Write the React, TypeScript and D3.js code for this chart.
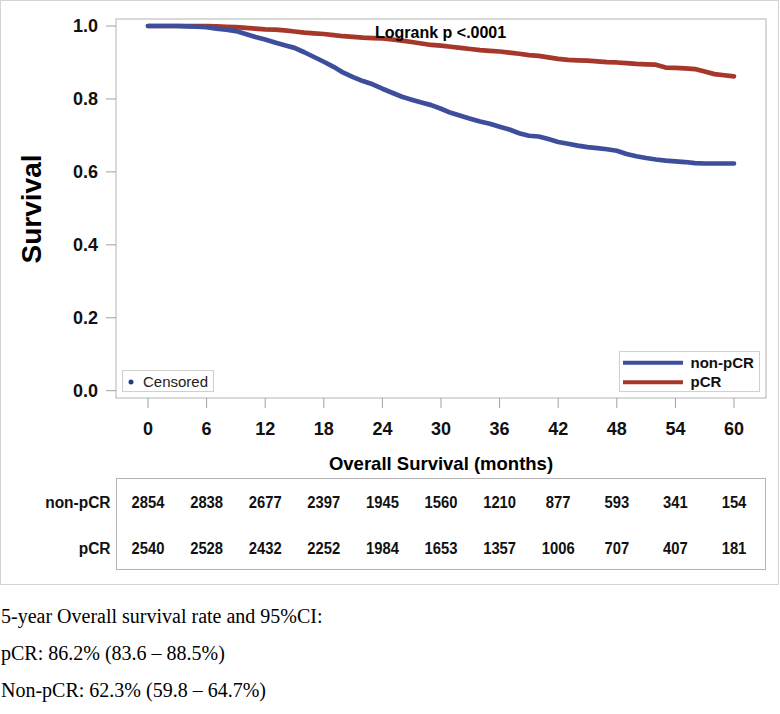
import React from 'react';
import * as d3 from 'd3';

// survival, one value per month (0..60)
const months = d3.range(0, 61);

const nonPcrSurv = [
  1.0, 1.0, 1.0, 1.0, 0.999, 0.998, 0.997, 0.993, 0.99, 0.986,
  0.978, 0.97, 0.963, 0.955, 0.947, 0.94, 0.928, 0.915, 0.902, 0.888,
  0.872, 0.86, 0.849, 0.84, 0.828, 0.817, 0.806, 0.798, 0.79, 0.783,
  0.773, 0.762, 0.754, 0.746, 0.738, 0.732, 0.724, 0.716, 0.706, 0.699,
  0.697, 0.69, 0.682, 0.677, 0.672, 0.668, 0.665, 0.662, 0.658, 0.649,
  0.643, 0.638, 0.634, 0.631, 0.629, 0.627, 0.624, 0.623, 0.623, 0.623,
  0.623,
];

const pcrSurv = [
  1.0, 1.0, 1.0, 1.0, 1.0, 1.0, 1.0, 0.999, 0.998, 0.997,
  0.995, 0.993, 0.991, 0.99, 0.988, 0.985, 0.982, 0.98, 0.978, 0.975,
  0.972, 0.97, 0.968, 0.967, 0.966, 0.963, 0.96, 0.956, 0.952, 0.948,
  0.946, 0.943, 0.94, 0.937, 0.934, 0.932, 0.93, 0.927, 0.924, 0.92,
  0.918, 0.914, 0.91, 0.907, 0.906, 0.905, 0.903, 0.901, 0.9, 0.898,
  0.896, 0.895, 0.894, 0.886, 0.885, 0.884, 0.882, 0.875, 0.868, 0.865,
  0.862,
];

const xTicks = [0, 6, 12, 18, 24, 30, 36, 42, 48, 54, 60];
const yTicks = [0, 0.2, 0.4, 0.6, 0.8, 1.0];

const groups = ['non-pCR', 'pCR'];
const nonPcrAtRisk = [2854, 2838, 2677, 2397, 1945, 1560, 1210, 877, 593, 341, 154];
const pcrAtRisk = [2540, 2528, 2432, 2252, 1984, 1653, 1357, 1006, 707, 407, 181];

const footLines = [
  '5-year Overall survival rate and 95%CI:',
  'pCR: 86.2% (83.6 \u2013 88.5%)',
  'Non-pCR: 62.3% (59.8 \u2013 64.7%)',
];

const BLUE = '#3d4f9c';
const RED = '#a6382b';
const SANS = '"Liberation Sans", Arial, sans-serif';
const SERIF = '"Liberation Serif", "Times New Roman", serif';

export default function App() {
  const width = 780;
  const height = 714;

  // plot frame
  const frame = { left: 116, top: 19, right: 766, bottom: 398 };

  const x = d3.scaleLinear().domain([0, 60]).range([148, 734]);
  const y = d3.scaleLinear().domain([0, 1]).range([390.7, 26]);

  const line = d3
    .line<number>()
    .x((_, i) => x(months[i]))
    .y((d) => y(d))
    .curve(d3.curveLinear);

  const riskRows = [nonPcrAtRisk, pcrAtRisk];
  const rowY = [507.5, 553.5];

  return (
    <div style={{ position: 'absolute', left: 0, top: 0 }}>
      <svg width={width} height={height} style={{ display: 'block', background: '#fff' }}>
        {/* outer figure border */}
        <rect x={0.5} y={0.5} width={778} height={584} fill="none" stroke="#d4d4d4" />

        {/* plot frame */}
        <rect
          x={frame.left}
          y={frame.top}
          width={frame.right - frame.left}
          height={frame.bottom - frame.top}
          fill="none"
          stroke="#b4b4b4"
        />

        {/* y axis */}
        {yTicks.map((t) => (
          <g key={t}>
            <line x1={106} x2={frame.left} y1={y(t)} y2={y(t)} stroke="#a0a0a0" />
            <text
              x={98}
              y={y(t)}
              dy="0.35em"
              textAnchor="end"
              fontFamily={SANS}
              fontSize={18}
              fontWeight="bold"
              fill="#111"
            >
              {t.toFixed(1)}
            </text>
          </g>
        ))}
        <text
          transform="translate(41,209) rotate(-90)"
          textAnchor="middle"
          fontFamily={SANS}
          fontSize={28}
          fontWeight="bold"
          fill="#000"
        >
          Survival
        </text>

        {/* x axis */}
        {xTicks.map((t) => (
          <g key={t}>
            <line x1={x(t)} x2={x(t)} y1={frame.bottom} y2={408} stroke="#a0a0a0" />
            <text
              x={x(t)}
              y={435}
              textAnchor="middle"
              fontFamily={SANS}
              fontSize={18}
              fontWeight="bold"
              fill="#111"
            >
              {t}
            </text>
          </g>
        ))}
        <text
          x={441}
          y={470}
          textAnchor="middle"
          fontFamily={SANS}
          fontSize={18.5}
          fontWeight="bold"
          fill="#000"
        >
          Overall Survival (months)
        </text>

        {/* curves */}
        <path d={line(pcrSurv) || ''} fill="none" stroke={RED} strokeWidth={4.7} strokeLinejoin="round" strokeLinecap="round" />
        <path d={line(nonPcrSurv) || ''} fill="none" stroke={BLUE} strokeWidth={4.7} strokeLinejoin="round" strokeLinecap="round" />

        <text x={375} y={38} fontFamily={SANS} fontSize={16} fontWeight="bold" fill="#000">
          Logrank p &lt;.0001
        </text>

        {/* censored legend */}
        <rect x={122.5} y={370.5} width={91} height={21} fill="#fff" stroke="#d0d0d0" />
        <circle cx={131} cy={382} r={2.5} fill="#1f3b8c" />
        <text x={143} y={387} fontFamily={SANS} fontSize={15} fill="#222">
          Censored
        </text>

        {/* group legend */}
        <rect x={619.5} y={351.5} width={140} height={40} fill="#fff" stroke="#d0d0d0" />
        {groups.map((g, i) => (
          <g key={g}>
            <line
              x1={623}
              x2={683}
              y1={362.7 + i * 19.6}
              y2={362.7 + i * 19.6}
              stroke={i === 0 ? BLUE : RED}
              strokeWidth={4}
            />
            <text
              x={690.5}
              y={367.5 + i * 19.4}
              fontFamily={SANS}
              fontSize={15}
              fontWeight="bold"
              fill="#111"
            >
              {g}
            </text>
          </g>
        ))}

        {/* numbers at risk (narrow bold face, as in the source) */}
        <rect x={116.5} y={478.5} width={649} height={91} fill="none" stroke="#b4b4b4" />
        {riskRows.map((row, r) => (
          <g key={groups[r]}>
            <text
              transform={`translate(110.5,${rowY[r]}) scale(0.91,1)`}
              textAnchor="end"
              fontFamily={SANS}
              fontSize={17}
              fontWeight="bold"
              fill="#111"
            >
              {groups[r]}
            </text>
            {row.map((n, i) => (
              <text
                key={i}
                transform={`translate(${x(xTicks[i])},${rowY[r]}) scale(0.87,1)`}
                textAnchor="middle"
                fontFamily={SANS}
                fontSize={17}
                fontWeight="bold"
                fill="#111"
              >
                {n}
              </text>
            ))}
          </g>
        ))}

        {/* caption below the figure */}
        {footLines.map((s, i) => (
          <text key={i} x={1} y={623 + i * 37} fontFamily={SERIF} fontSize={20} fill="#000">
            {s}
          </text>
        ))}
      </svg>
    </div>
  );
}
